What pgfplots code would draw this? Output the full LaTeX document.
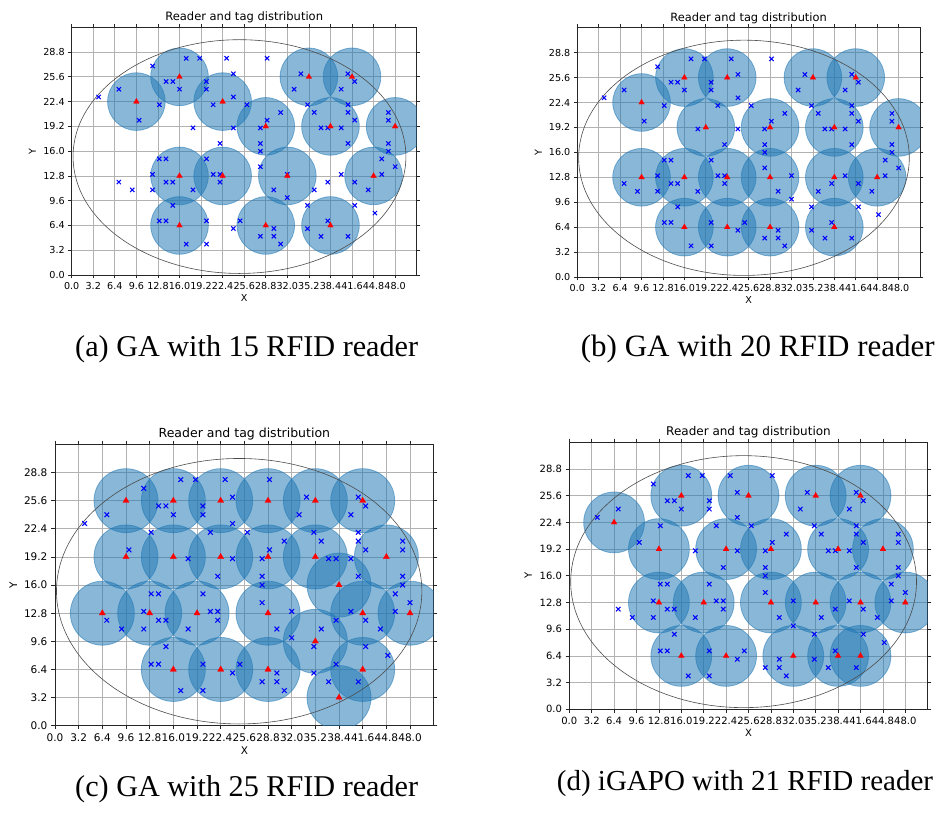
\documentclass[border=0pt]{standalone}
\usepackage{fontspec}
\setmainfont{DejaVu Sans}
\newfontfamily\capfont{Liberation Serif}
\usepackage{pgfplots}
\usepackage{pgfplotstable}
\pgfplotsset{compat=1.18}
\definecolor{tabblue}{RGB}{31,119,180}

\pgfplotstableread{
x y
17 28
19 28
23 28
29 28
12 27
24 26
34 26
41 26
14 25
15 25
20 25
42 25
7 24
16 24
20 24
33 24
40 24
4 23
24 23
13 22
21 22
26 22
35 22
41 22
31 21
36 21
41 21
47 21
10 20
29 20
42 20
47 20
18 19
24 19
28 19
37 19
38 19
40 19
22 17
28 17
41 17
47 17
28 16
47 16
13 15
14 15
20 15
46 15
28 14
48 14
12 13
21 13
22 13
32 13
40 13
46 13
7 12
14 12
15 12
22 12
38 12
42 12
9 11
12 11
18 11
30 11
36 11
44 11
32 10
15 9
35 9
42 9
45 8
13 7
14 7
20 7
25 7
38 7
24 6
30 6
35 6
28 5
30 5
37 5
41 5
17 4
20 4
31 4
}\tags

\pgfplotstableread{
x y
9.6 22.4
16 25.6
22.4 22.4
28.8 19.2
35.2 25.6
41.6 25.6
38.4 19.2
48 19.2
16 12.8
22.4 12.8
32 12.8
44.8 12.8
16 6.4
28.8 6.4
38.4 6.4
}\rdA

\pgfplotstableread{
x y
9.6 22.4
16 25.6
22.4 25.6
35.2 25.6
41.6 25.6
19.2 19.2
28.8 19.2
38.4 19.2
48 19.2
9.6 12.8
16 12.8
22.4 12.8
28.8 12.8
38.4 12.8
44.8 12.8
16 6.4
22.4 6.4
28.8 6.4
38.4 6.4
}\rdB

\pgfplotstableread{
x y
9.6 25.6
16 25.6
22.4 25.6
28.8 25.6
35.2 25.6
41.6 25.6
9.6 19.2
16 19.2
22.4 19.2
28.8 19.2
35.2 19.2
44.8 19.2
38.4 16
6.4 12.8
12.8 12.8
19.2 12.8
28.8 12.8
41.6 12.8
48 12.8
35.2 9.6
16 6.4
22.4 6.4
28.8 6.4
41.6 6.4
38.4 3.2
}\rdC

\pgfplotstableread{
x y
6.4 22.4
16 25.6
25.6 25.6
35.2 25.6
41.6 25.6
12.8 19.2
22.4 19.2
28.8 19.2
38.4 19.2
44.8 19.2
12.8 12.8
19.2 12.8
28.8 12.8
35.2 12.8
41.6 12.8
48 12.8
16 6.4
22.4 6.4
32 6.4
38.4 6.4
41.6 6.4
}\rdD

\tikzset{ell/.style={draw=black!70, line width=0.6pt}}

% #1 tick font, #2 title font, #3 tick length, #4 xlabel offset, #5 ylabel offset, #6 title gap
\pgfplotsset{
  rfid/.style n args={6}{
    scale only axis,
    xmin=0, xmax=51.2, ymin=0, ymax=32,
    xtick={0,3.2,6.4,9.6,12.8,16,19.2,22.4,25.6,28.8,32,35.2,38.4,41.6,44.8,48},
    xticklabels={0.0,3.2,6.4,9.6,12.8,16.0,19.2,22.4,25.6,28.8,32.0,35.2,38.4,41.6,44.8,48.0},
    ytick={0,3.2,6.4,9.6,12.8,16,19.2,22.4,25.6,28.8},
    yticklabels={0.0,3.2,6.4,9.6,12.8,16.0,19.2,22.4,25.6,28.8},
    /pgf/number format/assume math mode=true,
    grid=major,
    grid style={color=black!30, line width=0.7pt},
    axis line style={black!85, line width=0.75pt},
    tick style={black!85, line width=0.75pt},
    tick align=outside,
    major tick length=#3,
    every x tick label/.style={anchor=north, inner sep=0pt, yshift=-#3, font=\fontsize{#1}{#1}\selectfont},
    every y tick label/.style={anchor=east, inner sep=0pt, xshift=-#3, font=\fontsize{#1}{#1}\selectfont},
    every axis title/.style={at={(0.5,1)}, anchor=base, yshift=#6, font=\fontsize{#2}{#2}\selectfont},
    every axis x label/.style={at={(axis description cs:0.5,0)}, yshift=-#4, anchor=center, font=\fontsize{#1}{#1}\selectfont},
    every axis y label/.style={at={(axis description cs:0,0.5)}, xshift=-#5, rotate=90, anchor=center, font=\fontsize{#1}{#1}\selectfont},
    title={Reader and tag distribution},
    xlabel={X}, ylabel={Y},
    clip mode=individual,
    clip marker paths=true,
  },
  circ/.style={only marks, mark=*, mark size=#1,
    mark options={fill=tabblue, draw=tabblue, fill opacity=0.53, draw opacity=0.53, line width=0.8pt}},
  tagm/.style={only marks, mark=x, mark size=#1, mark options={draw=blue, line width=1.05pt}},
  rdm/.style={only marks, mark=triangle*, mark size=#1, mark options={fill=red, draw=red, line width=0.2pt}},
}

\begin{document}
\begin{tikzpicture}
\useasboundingbox (0,0) rectangle (940pt,-817pt);

% (a)
\begin{axis}[rfid={9.6pt}{11.5pt}{3.4pt}{22.7pt}{39.4pt}{6.6pt},
  at={(71.7pt,-275pt)}, anchor=south west, width=345pt, height=247.7pt]
\addplot[circ=28.8pt] table {\rdA};
\draw[ell] (axis cs:24.9,15.3) ellipse [x radius=24.7, y radius=15.1];
\addplot[tagm=3pt] table {\tags};
\addplot[rdm=3.3pt] table {\rdA};
\end{axis}

% (b)
\begin{axis}[rfid={9.6pt}{11.4pt}{3.4pt}{23pt}{39pt}{6.6pt},
  at={(577.3pt,-277pt)}, anchor=south west, width=342.7pt, height=249.3pt]
\addplot[circ=28.8pt] table {\rdB};
\draw[ell] (axis cs:24.9,15.3) ellipse [x radius=24.7, y radius=15.1];
\addplot[tagm=3pt] table {\tags};
\addplot[rdm=3.3pt] table {\rdB};
\end{axis}

% (c)
\begin{axis}[rfid={10.5pt}{12.5pt}{3.7pt}{24.7pt}{41.7pt}{7.4pt},
  at={(55pt,-725.7pt)}, anchor=south west, width=378.7pt, height=281.3pt]
\addplot[circ=32pt] table {\rdC};
\draw[ell] (axis cs:24.9,15.3) ellipse [x radius=24.7, y radius=15.1];
\addplot[tagm=3.3pt] table {\tags};
\addplot[rdm=3.6pt] table {\rdC};
\end{axis}

% (d)
\begin{axis}[rfid={10pt}{12pt}{3.6pt}{23.4pt}{41pt}{7pt},
  at={(569.3pt,-709.3pt)}, anchor=south west, width=358.4pt, height=267pt]
\addplot[circ=30.4pt] table {\rdD};
\draw[ell] (axis cs:24.9,15.3) ellipse [x radius=24.7, y radius=15.1];
\addplot[tagm=3.1pt] table {\tags};
\addplot[rdm=3.4pt] table {\rdD};
\end{axis}

\node[anchor=base west, inner sep=0pt, font=\capfont\fontsize{30.2}{30.2}\selectfont] at (75pt,-356pt) {(a) GA with 15 RFID reader};
\node[anchor=base west, inner sep=0pt, font=\capfont\fontsize{31}{31}\selectfont] at (580.7pt,-356pt) {(b) GA with 20 RFID reader};
\node[anchor=base west, inner sep=0pt, font=\capfont\fontsize{30.2}{30.2}\selectfont] at (75pt,-796.7pt) {(c) GA with 25 RFID reader};
\node[anchor=base west, inner sep=0pt, font=\capfont\fontsize{29}{29}\selectfont] at (556.7pt,-790.5pt) {(d) iGAPO with 21 RFID reader};
\end{tikzpicture}
\end{document}
